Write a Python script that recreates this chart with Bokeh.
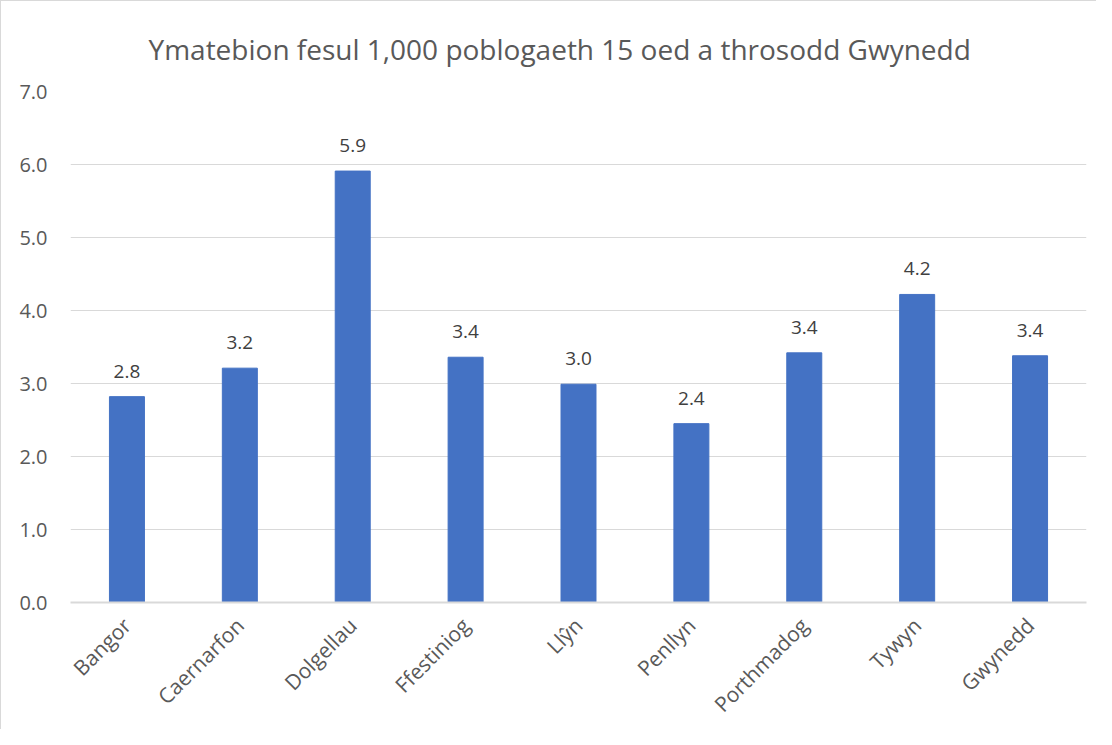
from bokeh.plotting import figure
from bokeh.models import ColumnDataSource, LabelSet, FixedTicker, CustomJSTickFormatter
from bokeh.embed import file_html
from bokeh.resources import INLINE
from bokeh.core.properties import value
import math

areas = ["Bangor", "Caernarfon", "Dolgellau", "Ffestiniog", "Llŷn", "Penllyn", "Porthmadog", "Tywyn", "Gwynedd"]
rates = [2.82, 3.21, 5.91, 3.36, 2.99, 2.45, 3.42, 4.22, 3.38]
labels = ["2.8", "3.2", "5.9", "3.4", "3.0", "2.4", "3.4", "4.2", "3.4"]
y_ticks = [0, 1, 2, 3, 4, 5, 6, 7]
title_text = "Ymatebion fesul 1,000 poblogaeth 15 oed a throsodd Gwynedd"

FONT = "Open Sans"

src = ColumnDataSource(dict(x=areas, y=rates, lab=labels))

p = figure(x_range=areas, y_range=(0, 7), width=1096, height=729,
           output_backend="svg", toolbar_location=None,
           min_border_left=69, min_border_right=11, min_border_top=90, min_border_bottom=128,
           styles={"border-left": "1px solid #d9d9d9", "border-top": "1px solid #d9d9d9"})

p.title.text = title_text
p.title.align = "left"
p.title.offset = 78
p.title.text_font = FONT
p.title.text_font_size = "28px"
p.title.text_font_style = "normal"
p.title.text_color = "#595959"
p.title.standoff = 48

p.vbar(x="x", top="y", width=0.31, source=src, color="#4472c4")

p.add_layout(LabelSet(x="x", y="y", text="lab", source=src, text_align="center",
                      text_baseline="bottom", y_offset=19, text_font=value(FONT),
                      text_font_size="19px", text_color="#404040"))

p.outline_line_color = None
p.xgrid.grid_line_color = None
p.ygrid.grid_line_color = "#d9d9d9"
p.ygrid.grid_line_width = 1

p.yaxis.ticker = FixedTicker(ticks=y_ticks)
p.yaxis.formatter = CustomJSTickFormatter(code="return tick.toFixed(1)")
p.yaxis.axis_line_color = None
p.yaxis.major_tick_line_color = None
p.yaxis.minor_tick_line_color = None
p.yaxis.major_label_text_font = FONT
p.yaxis.major_label_text_font_size = "20px"
p.yaxis.major_label_text_color = "#595959"
p.yaxis.major_label_standoff = 17

p.xaxis.axis_line_color = "#d9d9d9"
p.xaxis.axis_line_width = 2
p.xaxis.major_tick_line_color = None
p.xaxis.minor_tick_line_color = None
p.xaxis.major_label_orientation = math.pi / 4
p.xaxis.major_label_text_font = FONT
p.xaxis.major_label_text_font_size = "21px"
p.xaxis.major_label_text_color = "#595959"
p.xaxis.major_label_standoff = 13

open("out.html", "w").write(file_html(p, INLINE))
